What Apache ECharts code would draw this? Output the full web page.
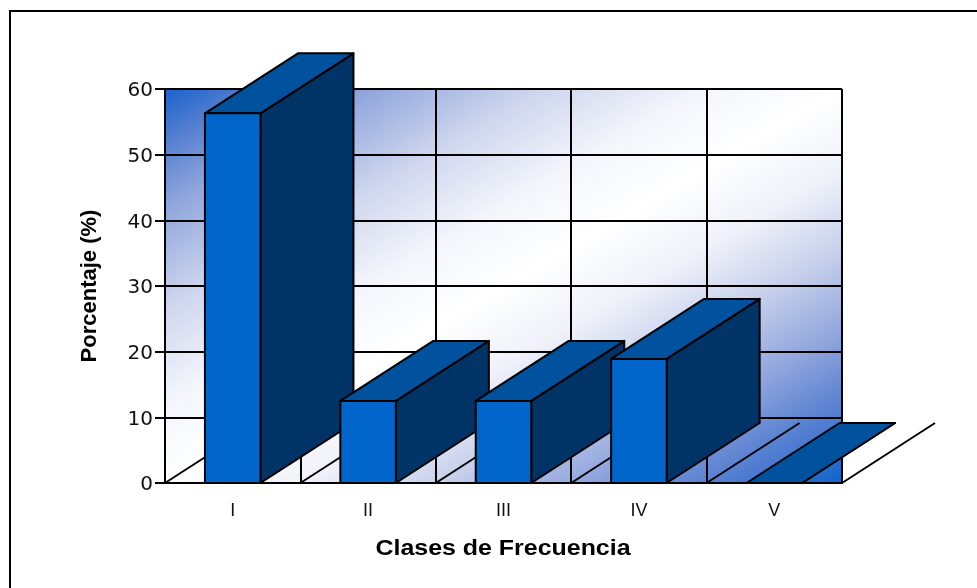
<!DOCTYPE html>
<html>
<head>
<meta charset="utf-8">
<style>
	html, body { margin: 0; padding: 0; background: #fff; }
	#chart { width: 977px; height: 588px; }
</style>
<script src="https://cdn.jsdelivr.net/npm/echarts@6/dist/echarts.min.js"></script>
</head>
<body>
<div id="chart"></div>
<script>
// values
const categories = ["I", "II", "III", "IV", "V"];
const percentages = [56.3, 12.5, 12.5, 18.9, 0];

// pseudo 3D look of the excel chart
const depthX = 93;
const depthY = -60;
const barRatio = 0.41;
const lineStyle = { stroke: "#000", lineWidth: 2 };

const chart = echarts.init(document.getElementById("chart"));

// floor lines going backwards from every category boundary
const renderFloor = (params, api) => {
	const x0 = api.coord([api.value(0), 0]);
	const w = api.size([1, 0])[0];
	const sx = x0[0] - w / 2;
	return {
		type: "line",
		shape: { x1: sx, y1: x0[1], x2: sx + depthX, y2: x0[1] + depthY },
		style: lineStyle
	};
};

const renderLastFloor = (params, api) => {
	const x0 = api.coord([api.value(0), 0]);
	const w = api.size([1, 0])[0];
	const sx = x0[0] + w / 2;
	return {
		type: "line",
		shape: { x1: sx, y1: x0[1], x2: sx + depthX, y2: x0[1] + depthY },
		style: lineStyle
	};
};

const renderBar = (params, api) => {
	const top = api.coord([api.value(0), api.value(1)]);
	const base = api.coord([api.value(0), 0]);
	const w = api.size([1, 0])[0] * barRatio;
	const l = top[0] - w / 2;
	const r = top[0] + w / 2;
	const t = top[1];
	const b = base[1];
	const outline = { stroke: "#000", lineWidth: 2, lineJoin: "round" };
	return {
		type: "group",
		children: [
			{
				type: "polygon",
				shape: { points: [[r, t], [r + depthX, t + depthY], [r + depthX, b + depthY], [r, b]] },
				style: Object.assign({ fill: "#003366" }, outline)
			},
			{
				type: "polygon",
				shape: { points: [[l, t], [l + depthX, t + depthY], [r + depthX, t + depthY], [r, t]] },
				style: Object.assign({ fill: "#00519e" }, outline)
			},
			{
				type: "rect",
				shape: { x: l, y: t, width: r - l, height: b - t },
				style: Object.assign({ fill: "#0066cc" }, outline)
			}
		]
	};
};

const option = {
	animation: false,
	backgroundColor: "#fff",
	textStyle: { fontFamily: "Liberation Sans" },
	graphic: [
		{
			type: "polyline",
			silent: true,
			shape: { points: [[10, 588], [10, 11], [977, 11]] },
			style: { fill: null, stroke: "#000", lineWidth: 2 }
		},
		{
			// the original title is stretched sideways, axis names cannot do that
			type: "text",
			silent: true,
			x: 503,
			y: 549,
			scaleX: 1.16,
			style: {
				text: "Clases de Frecuencia",
				font: "bold 21.5px 'Liberation Sans'",
				fill: "#000",
				align: "center",
				verticalAlign: "middle"
			}
		}
	],
	grid: {
		left: 165,
		right: 135,
		top: 89,
		bottom: 105,
		show: true,
		borderWidth: 0,
		backgroundColor: new echarts.graphic.LinearGradient(0.247, -0.247, 0.753, 1.247, [
			{ offset: 0, color: "#1a62cc" },
			{ offset: 0.07, color: "#5580d0" },
			{ offset: 0.15, color: "#8fa5dc" },
			{ offset: 0.28, color: "#cfd6ee" },
			{ offset: 0.4, color: "#f4f6fc" },
			{ offset: 0.5, color: "#ffffff" },
			{ offset: 0.6, color: "#f0f2fa" },
			{ offset: 0.7, color: "#c8d1ec" },
			{ offset: 0.8, color: "#95a9de" },
			{ offset: 0.88, color: "#6488d3" },
			{ offset: 0.95, color: "#3a70cf" },
			{ offset: 1, color: "#0a66cc" }
		])
	},
	xAxis: {
		type: "category",
		data: categories,
		boundaryGap: true,
		axisLine: { lineStyle: { color: "#000", width: 2 } },
		axisTick: { show: false },
		axisLabel: { margin: 19, fontSize: 18, color: "#111" },
		splitLine: { show: true, lineStyle: { color: "#000", width: 2 } }
	},
	yAxis: {
		type: "value",
		min: 0,
		max: 60,
		interval: 10,
		name: "Porcentaje (%)",
		nameLocation: "middle",
		nameGap: 64,
		nameTextStyle: { fontSize: 22, fontWeight: "bold", color: "#000" },
		axisLine: { show: true, lineStyle: { color: "#000", width: 2 } },
		axisTick: { show: true, length: 10, lineStyle: { color: "#000", width: 2 } },
		axisLabel: { margin: 12, fontSize: 20, color: "#111", fontFamily: "DejaVu Sans", verticalAlign: "top", padding: [-8, 0, 0, 0] },
		splitLine: { show: true, lineStyle: { color: "#000", width: 2 } }
	},
	series: [
		{
			type: "custom",
			coordinateSystem: "cartesian2d",
			renderItem: renderFloor,
			silent: true,
			data: categories.map((c, i) => [i]),
			z: 3
		},
		{
			type: "custom",
			coordinateSystem: "cartesian2d",
			renderItem: renderLastFloor,
			silent: true,
			data: [[categories.length - 1]],
			clip: false,
			z: 3
		},
		{
			type: "custom",
			coordinateSystem: "cartesian2d",
			renderItem: renderBar,
			clip: false,
			data: categories.map((c, i) => [i, percentages[i]]),
			z: 4
		}
	]
};

chart.setOption(option);
</script>
</body>
</html>
